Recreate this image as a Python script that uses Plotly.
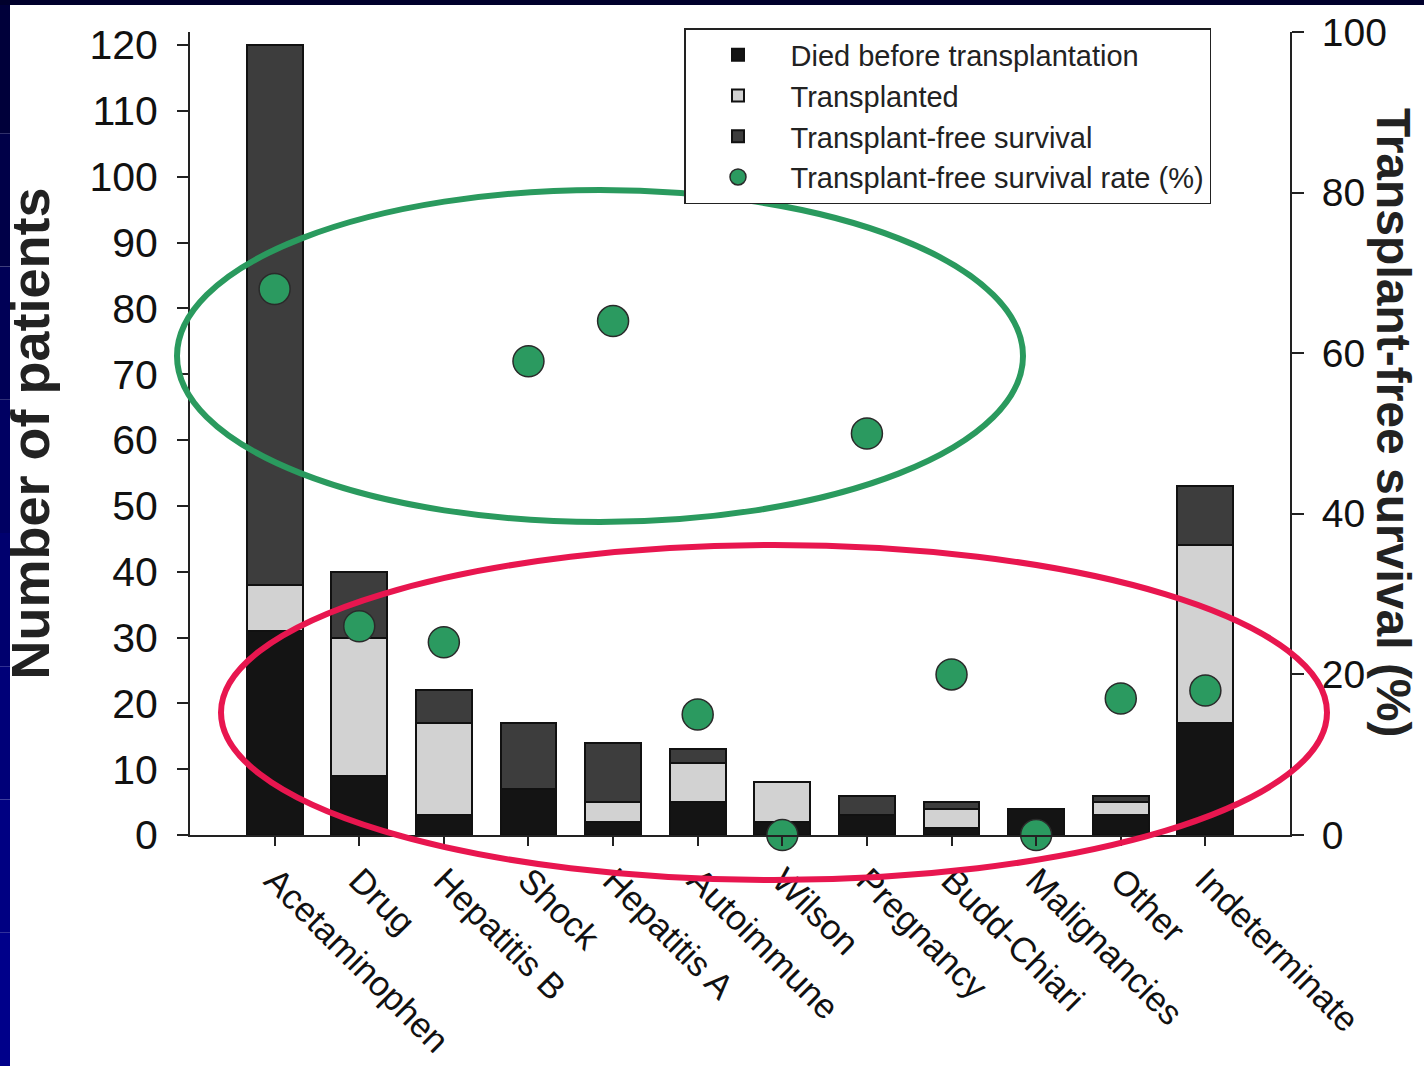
import plotly.graph_objects as go

categories = ["Acetaminophen", "Drug", "Hepatitis B", "Shock", "Hepatitis A", "Autoimmune",
              "Wilson", "Pregnancy", "Budd-Chiari", "Malignancies", "Other", "Indeterminate"]
died = [31, 9, 3, 7, 2, 5, 2, 3, 1, 4, 3, 17]
transplanted = [7, 21, 14, 0, 3, 6, 6, 0, 3, 0, 2, 27]
tfs = [82, 10, 5, 10, 9, 2, 0, 3, 1, 0, 1, 9]
tfs_rate = [68, 26, 24, 59, 64, 15, 0, 50, 20, 0, 17, 18]

W, H = 1424, 1066
L, R, T, B = 190, 134, 32, 231
PW, PH = W - L - R, H - T - B

def px(x):
    return (x - L) / PW

def py(y):
    return (H - B - y) / PH

FONT = "Liberation Sans, Arial, sans-serif"

fig = go.Figure()
bar_line = dict(color="#111111", width=2)
fig.add_trace(go.Bar(x=categories, y=died, name="Died before transplantation",
                     marker=dict(color="#141414", line=bar_line), width=0.66))
fig.add_trace(go.Bar(x=categories, y=transplanted, name="Transplanted",
                     marker=dict(color="#d2d2d2", line=bar_line), width=0.66))
fig.add_trace(go.Bar(x=categories, y=tfs, name="Transplant-free survival",
                     marker=dict(color="#3d3d3d", line=bar_line), width=0.66))
fig.add_trace(go.Scatter(x=categories, y=tfs_rate, name="Transplant-free survival rate (%)",
                         mode="markers", yaxis="y2", cliponaxis=False,
                         marker=dict(size=31, color="#2b9a60", line=dict(color="#2a2a2a", width=1.5))))

shapes = [
    dict(type="circle", xref="paper", yref="paper", x0=px(177), x1=px(1023), y0=py(522), y1=py(190),
         line=dict(color="#2a9a5e", width=6)),
    dict(type="circle", xref="paper", yref="paper", x0=px(221), x1=px(1327), y0=py(880), y1=py(545),
         line=dict(color="#e8164f", width=6)),
]
# dark navy frame strips (left strip as a vertical gradient made of bands)
band_cols = ["#00003a", "#000048", "#000056", "#000062", "#00006e", "#000078", "#000082", "#00008a"]
nb = len(band_cols)
for i, c in enumerate(band_cols):
    shapes.append(dict(type="rect", xref="paper", yref="paper", x0=px(0), x1=px(10),
                       y0=py(H * (i + 1) / nb), y1=py(H * i / nb),
                       fillcolor=c, line=dict(width=0), layer="above"))
shapes.append(dict(type="rect", xref="paper", yref="paper", x0=px(0), x1=px(W), y0=py(5), y1=py(0),
                   fillcolor="#00002c", line=dict(width=0), layer="above"))

fig.update_layout(
    width=W, height=H, autosize=False,
    margin=dict(l=L, r=R, t=T, b=B, pad=0, autoexpand=False),
    paper_bgcolor="white", plot_bgcolor="white",
    barmode="stack",
    font=dict(family=FONT, color="#111111"),
    xaxis=dict(range=[-1, 12], showline=True, linecolor="#222222", linewidth=2, automargin=False,
               ticks="outside", ticklen=9, tickwidth=2, tickcolor="#222222",
               tickangle=45, tickfont=dict(size=35, family=FONT, color="#111111"),
               showgrid=False, zeroline=False),
    yaxis=dict(range=[0, 120 * PH / 790], tickvals=list(range(0, 121, 10)), automargin=False,
               showline=True, linecolor="#222222", linewidth=2,
               ticks="outside", ticklen=11, tickwidth=2, tickcolor="#222222",
               ticklabelstandoff=11,
               tickfont=dict(size=41, family=FONT, color="#111111"),
               showgrid=False, zeroline=False,
               title=dict(text="<b>Number of patients</b>", font=dict(size=54, family=FONT, color="#222222"),
                          standoff=26)),
    yaxis2=dict(range=[0, 100], dtick=20, overlaying="y", side="right", automargin=False,
                showline=True, linecolor="#222222", linewidth=2,
                ticks="outside", ticklen=12, tickwidth=2, tickcolor="#222222",
                ticklabelstandoff=10,
                tickfont=dict(size=39, family=FONT, color="#111111"),
                showgrid=False, zeroline=False),
    legend=dict(x=px(684), y=py(28), xanchor="left", yanchor="top",
                bgcolor="white", bordercolor="#222222", borderwidth=1.5,
                font=dict(size=29, family=FONT, color="#222222"),
                itemwidth=95, tracegroupgap=0, traceorder="normal"),
    shapes=shapes,
    annotations=[dict(text="<b>Transplant-free survival (%)</b>", xref="paper", yref="paper",
                      x=px(1393), y=py(423), textangle=90, showarrow=False,
                      xanchor="center", yanchor="middle",
                      font=dict(size=48, family=FONT, color="#222222"))],
)

fig.write_html("out.html", config={"displayModeBar": False},
               post_script="document.body.style.margin='0px';")
